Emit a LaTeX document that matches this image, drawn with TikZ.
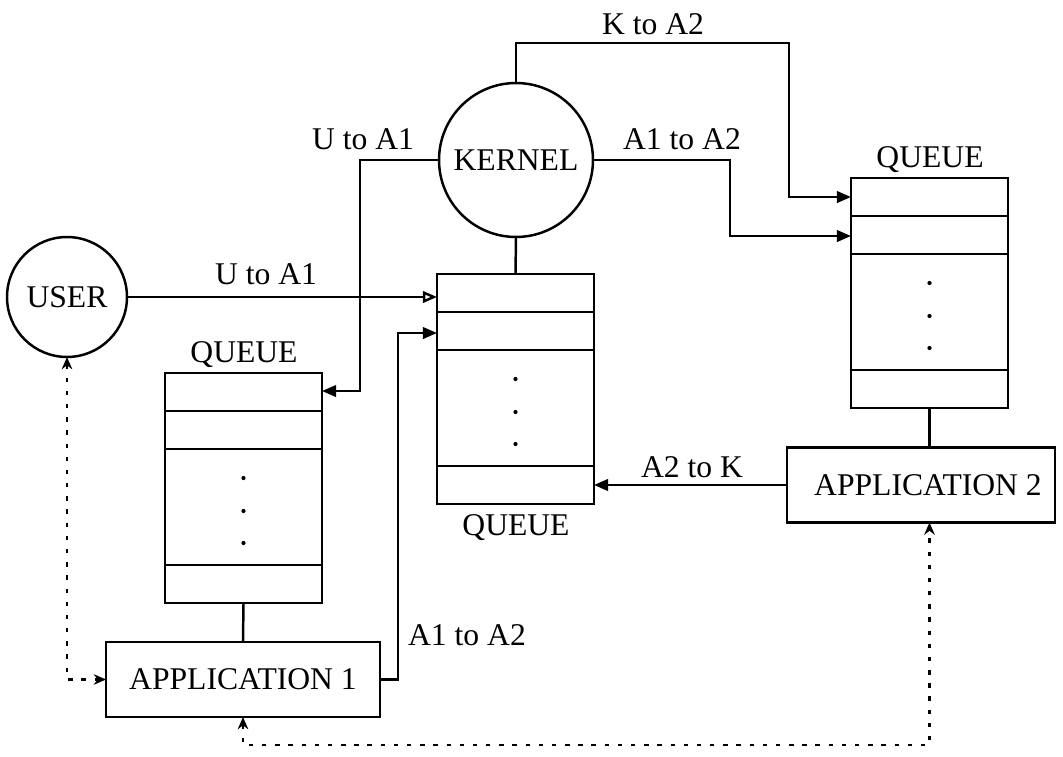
\documentclass[tikz,border=0pt]{standalone}
\usepackage{fontspec}
\setmainfont{Liberation Serif}
\usetikzlibrary{arrows.meta,calc}
\newcommand\qinner[1]{%
  \draw ($(#1.north west)+(0,38)$) -- ($(#1.north east)+(0,38)$);
  \draw ($(#1.north west)+(0,76)$) -- ($(#1.north east)+(0,76)$);
  \draw ($(#1.north west)+(0,192)$) -- ($(#1.north east)+(0,192)$);
  \fill ($(#1.north)+(0,105)$) circle (1.2pt);
  \fill ($(#1.north)+(0,138)$) circle (1.2pt);
  \fill ($(#1.north)+(0,170)$) circle (1.2pt);}
\begin{document}
\begin{tikzpicture}[x=0.02cm,y=-0.02cm,
  line width=1.4pt,
  every node/.style={font=\fontsize{18}{21}\selectfont, inner sep=0pt, outer sep=0pt},
  qbox/.style={draw, minimum width=3.14cm, minimum height=4.6cm},
  appbox/.style={draw, minimum height=1.5cm},
  circ/.style={draw, circle},
  lbl/.style={anchor=base},
  flow/.style={-{Triangle[length=8pt,width=6.5pt]}},
  openflow/.style={-{Triangle[open,length=8pt,width=6.5pt]}},
  ctrl/.style={dash pattern=on 2.5pt off 5pt, {Stealth[length=7pt,width=6pt]}-{Stealth[length=7pt,width=6pt]}}
]
\useasboundingbox (0,0) rectangle (1063,757);

% main nodes
\node[circ, minimum size=2.4cm] (user) at (67,297) {USER};
\node[circ, minimum size=3.08cm] (kernel) at (516,160) {KERNEL};
\node[qbox] (q1) at (243.5,488) {};
\node[qbox] (q2) at (515.5,389) {};
\node[qbox] (q3) at (929.5,293) {};
\node[appbox, minimum width=5.48cm] (app1) at (243,679.5) {APPLICATION 1};
\node[appbox, minimum width=5.36cm] (app2) at (921,485) {\hspace{0.28cm}APPLICATION 2};

\qinner{q1}
\qinner{q2}
\qinner{q3}

% entry points
\coordinate (q2in2) at ($(q2.north west)+(0,59)$);
\coordinate (q1in) at ($(q1.north east)+(0,18)$);
\coordinate (q3in1) at ($(q3.north west)+(0,19)$);
\coordinate (q3in2) at ($(q3.north west)+(0,58)$);

% solid connectors
\draw (kernel.south) -- (q2.north);
\draw (q1.south) -- (app1.north);
\draw (q3.south) -- (q3.south |- app2.north);
\draw[openflow] (user.east) -- (q2.west |- user.east);
\draw[flow] (app1.east) -- ++(18,0) |- (q2in2);
\draw[flow] (kernel.west) -- ++(-79,0) |- (q1in);
\draw[flow] (kernel.north) -- ++(0,-40) -| ($(q3in1)+(-62,0)$) -- (q3in1);
\draw[flow] (kernel.east) -- ++(137,0) |- (q3in2);
\draw[flow] (app2.west) -- (q2.east |- app2.west);

% dashed control connectors
\draw[ctrl] (user.south) |- (app1.west);
\draw[ctrl] (app1.south) -- ++(0,28) -| (app2.south -| q3.south);

% labels
\node[lbl] (lK) at (653,35) {K to A2};
\node[lbl] (lUA1a) at (363,150) {U to A1};
\node[lbl] (lA1A2a) at (682,150) {A1 to A2};
\node[lbl] (lq3) at (930,168) {QUEUE};
\node[lbl] (lUA1b) at (266,285) {U to A1};
\node[lbl] (lq1) at (244,362) {QUEUE};
\node[lbl] (lA2K) at (692,477) {A2 to K};
\node[lbl] (lq2) at (516,535) {QUEUE};
\node[lbl] (lA1A2b) at (467,645) {A1 to A2};
\end{tikzpicture}
\end{document}
